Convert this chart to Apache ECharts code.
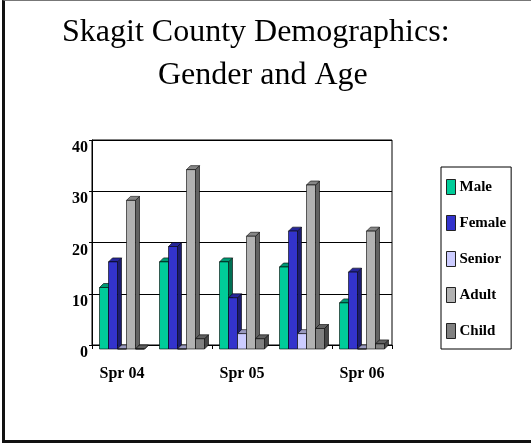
<!DOCTYPE html>
<html>
<head>
<meta charset="utf-8">
<title>Skagit County Demographics</title>
<script src="https://cdn.jsdelivr.net/npm/echarts@6/dist/echarts.min.js"></script>
<style>
  html, body { margin: 0; padding: 0; background: #fff; }
  #frame {
    position: absolute; left: 2px; top: 0; width: 560px; height: 443px;
    box-sizing: border-box;
    border-left: 3px solid #111; border-top: 1px solid #777; border-bottom: 3px solid #111;
  }
  #chart { position: absolute; left: 0; top: 0; width: 531px; height: 444px; }
</style>
</head>
<body>
<div id="frame"></div>
<div id="chart"></div>
<script>
// data
var categories = ['Spr 04', 'Fall 04', 'Spr 05', 'Fall 05', 'Spr 06'];
var maleValues = [12, 17, 17, 16, 9];
var femaleValues = [17, 20, 10, 23, 15];
var seniorValues = [0, 0, 3, 3, 0];
var adultValues = [29, 35, 22, 32, 23];
var childValues = [0, 2, 2, 4, 1];
var yTicks = [0, 10, 20, 30, 40];

var SERIF = "'Liberation Serif', 'Times New Roman', serif";
var DEPTH = 4; // fake 3d depth, px

function shade(hex, k) {
    var n = parseInt(hex.slice(1), 16);
    var r = Math.round(((n >> 16) & 255) * k);
    var g = Math.round(((n >> 8) & 255) * k);
    var b = Math.round((n & 255) * k);
    return 'rgb(' + r + ',' + g + ',' + b + ')';
}

function barSeries(name, values, color, idx) {
    return {
        name: name,
        type: 'custom',
        itemStyle: { color: color },
        encode: { x: 0, y: 1 },
        data: values.map(function (v, j) { return [j, v]; }),
        renderItem: function (params, api) {
            var j = api.value(0);
            var base = api.coord([j, 0]);
            var top = api.coord([j, api.value(1)]);
            var bw = api.size([1, 0])[0] * 0.15;
            var x0 = base[0] - 2.5 * bw + idx * bw;
            var d = DEPTH;
            var yT = top[1] + d, yB = base[1] + d;
            var line = { stroke: '#000', lineWidth: 0.6 };
            return {
                type: 'group',
                children: [
                    // right side face
                    { type: 'polygon', shape: { points: [[x0 + bw, yT], [x0 + bw + d, yT - d], [x0 + bw + d, yB - d], [x0 + bw, yB]] },
                      style: Object.assign({ fill: shade(color, 0.55) }, line) },
                    // top face
                    { type: 'polygon', shape: { points: [[x0, yT], [x0 + d, yT - d], [x0 + bw + d, yT - d], [x0 + bw, yT]] },
                      style: Object.assign({ fill: shade(color, 0.75) }, line) },
                    // front
                    { type: 'rect', shape: { x: x0, y: yT, width: bw, height: yB - yT },
                      style: Object.assign({ fill: color }, line) }
                ]
            };
        }
    };
}

var chart = echarts.init(document.getElementById('chart'));

var option = {
    animation: false,
    title: [
        { text: 'Skagit County Demographics:', left: 62, top: 17, padding: 0,
          textStyle: { fontFamily: SERIF, fontSize: 32, fontWeight: 'normal', color: '#000' } },
        { text: 'Gender and Age', left: 158, top: 60, padding: 0,
          textStyle: { fontFamily: SERIF, fontSize: 32, fontWeight: 'normal', color: '#000' } }
    ],
    legend: {
        orient: 'vertical',
        left: 441,
        top: 167,
        icon: 'rect',
        itemWidth: 9,
        itemHeight: 15,
        itemGap: 20,
        borderColor: '#000',
        borderWidth: 1,
        borderRadius: 0,
        padding: [12, 5, 10, 5],
        itemStyle: { borderColor: '#222', borderWidth: 1 },
        textStyle: { fontFamily: SERIF, fontSize: 15, fontWeight: 'bold', color: '#000', padding: [0, 0, 0, -1] },
        data: ['Male', 'Female', 'Senior', 'Adult', 'Child']
    },
    grid: {
        left: 92,
        right: 139,
        top: 140,
        bottom: 99,
        show: true,
        borderColor: '#000',
        borderWidth: 1
    },
    xAxis: {
        type: 'category',
        data: categories,
        offset: DEPTH,
        axisLine: { lineStyle: { color: '#000', width: 1 } },
        axisTick: { show: true, length: 4, lineStyle: { color: '#000' } },
        axisLabel: { interval: 1, margin: 17, fontFamily: SERIF, fontSize: 16, fontWeight: 'bold', color: '#000' }
    },
    yAxis: {
        type: 'value',
        min: yTicks[0],
        max: yTicks[yTicks.length - 1],
        interval: 10,
        axisLine: { show: true, lineStyle: { color: '#000', width: 1 } },
        axisTick: { show: true, length: 3, lineStyle: { color: '#000' } },
        axisLabel: { margin: 4, verticalAlign: 'top', fontFamily: SERIF, fontSize: 16, fontWeight: 'bold', color: '#000' },
        splitLine: { lineStyle: { color: '#000', width: 1 } }
    },
    series: [
        barSeries('Male', maleValues, '#00CC99', 0),
        barSeries('Female', femaleValues, '#3333CC', 1),
        barSeries('Senior', seniorValues, '#CCCCFF', 2),
        barSeries('Adult', adultValues, '#B2B2B2', 3),
        barSeries('Child', childValues, '#808080', 4)
    ]
};

chart.setOption(option);
</script>
</body>
</html>
